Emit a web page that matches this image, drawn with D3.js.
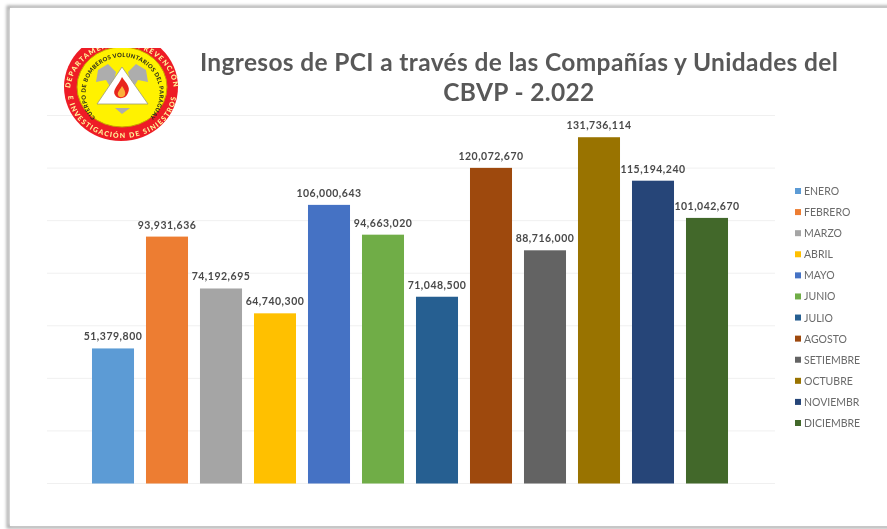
<!DOCTYPE html>
<html>
<head>
<meta charset="utf-8">
<script src="https://cdn.jsdelivr.net/npm/d3@7"></script>
<style>
  html, body { margin: 0; padding: 0; background: #fff; }
  svg { display: block; }
</style>
</head>
<body>
<script>
const months = ['ENERO', 'FEBRERO', 'MARZO', 'ABRIL', 'MAYO', 'JUNIO', 'JULIO', 'AGOSTO', 'SETIEMBRE', 'OCTUBRE', 'NOVIEMBR', 'DICIEMBRE'];
const ingresos = [51379800, 93931636, 74192695, 64740300, 106000643, 94663020, 71048500, 120072670, 88716000, 131736114, 115194240, 101042670];
const colores = ['#5B9BD5', '#ED7D31', '#A5A5A5', '#FFC000', '#4472C4', '#70AD47', '#255E91', '#9E480E', '#636363', '#997300', '#264478', '#43682B'];
const gridTicks = [0, 20000000, 40000000, 60000000, 80000000, 100000000, 120000000, 140000000];
const titulo = ['Ingresos de PCI a través de las Compañías y Unidades del', 'CBVP - 2.022'];

const width = 887, height = 529;

const svg = d3.select('body').append('svg')
  .attr('width', width)
  .attr('height', height);

const defs = svg.append('defs');
defs.append('filter').attr('id', 'soft')
  .append('feGaussianBlur').attr('stdDeviation', 0.5);
defs.append('filter').attr('id', 'softer')
  .attr('x', '-5%').attr('y', '-5%').attr('width', '110%').attr('height', '110%')
  .append('feGaussianBlur').attr('stdDeviation', 1.4);
defs.append('clipPath').attr('id', 'logo-clip')
  .append('rect').attr('x', 50).attr('y', 48).attr('width', 140).attr('height', 100);

// Page frame with its shadow
svg.append('rect').attr('x', 8).attr('y', 7).attr('width', 900).attr('height', 520)
  .attr('fill', 'none').attr('stroke', '#a8a8a8').attr('stroke-width', 3)
  .attr('filter', 'url(#softer)');
svg.append('rect').attr('x', 10).attr('y', 8).attr('width', 900).attr('height', 518)
  .attr('fill', '#fff');

const x = d3.scaleBand()
  .domain(months)
  .range([86, 734])
  .paddingInner(0.222)
  .paddingOuter(0.111);

const y = d3.scaleLinear()
  .domain([0, 140000000])
  .range([483.5, 115.5]);

const fmt = d3.format(',');

// Gridlines
svg.append('g').selectAll('line')
  .data(gridTicks)
  .join('line')
  .attr('x1', 47)
  .attr('x2', 775)
  .attr('y1', d => y(d))
  .attr('y2', d => y(d))
  .attr('stroke', '#f0f0f0')
  .attr('stroke-width', 1);

// Bars
svg.append('g').attr('filter', 'url(#soft)').selectAll('rect')
  .data(months)
  .join('rect')
  .attr('x', d => x(d))
  .attr('y', (d, i) => y(ingresos[i]))
  .attr('width', x.bandwidth())
  .attr('height', (d, i) => y(0) - y(ingresos[i]))
  .attr('fill', (d, i) => colores[i]);

// Value labels
svg.append('g').attr('filter', 'url(#soft)').selectAll('text')
  .data(months)
  .join('text')
  .attr('x', d => x(d) + x.bandwidth() / 2)
  .attr('y', (d, i) => y(ingresos[i]) - 8)
  .attr('text-anchor', 'middle')
  .attr('font-family', 'Lato, sans-serif')
  .attr('font-weight', 700)
  .attr('font-size', 10.5)
  .attr('letter-spacing', 0.5)
  .attr('fill', '#4a4a4a')
  .text((d, i) => fmt(ingresos[i]));

// Title
svg.append('g').attr('filter', 'url(#soft)').selectAll('text')
  .data(titulo)
  .join('text')
  .attr('x', 519)
  .attr('y', (d, i) => 71 + i * 30)
  .attr('text-anchor', 'middle')
  .attr('font-family', 'Lato, sans-serif')
  .attr('font-weight', 700)
  .attr('font-size', 24.5)
  .attr('letter-spacing', 0.35)
  .attr('fill', '#595959')
  .text(d => d);

// Legend
const legendY = d3.scalePoint().domain(months).range([191, 423]);
const legend = svg.append('g').attr('filter', 'url(#soft)').selectAll('g')
  .data(months)
  .join('g')
  .attr('transform', d => `translate(795,${legendY(d)})`);
legend.append('rect')
  .attr('x', 0).attr('y', -3)
  .attr('width', 6).attr('height', 6)
  .attr('fill', (d, i) => colores[i]);
legend.append('text')
  .attr('x', 9)
  .attr('y', 4)
  .attr('font-family', 'Lato, sans-serif')
  .attr('font-size', 10.5)
  .attr('fill', '#6a6a6a')
  .text(d => d);

// Logo
const logo = svg.append('g').attr('clip-path', 'url(#logo-clip)').attr('filter', 'url(#soft)');
logo.append('ellipse').attr('cx', 121).attr('cy', 87).attr('rx', 57).attr('ry', 54).attr('fill', '#ee1c25');
logo.append('ellipse').attr('cx', 122).attr('cy', 87).attr('rx', 45).attr('ry', 40).attr('fill', '#fff200').attr('stroke', '#c8a000').attr('stroke-width', 1);
logo.append('path').attr('d', 'M98 70 L108 64 L116 72 L112 90 L106 80 L96 82 Z M146 70 L136 64 L128 72 L132 90 L138 80 L148 82 Z').attr('fill', '#adadad');
logo.append('path').attr('d', 'M122 67 L148 104 L97 104 Z').attr('fill', '#fff').attr('stroke', '#9a9a7a').attr('stroke-width', 0.8);
logo.append('path').attr('d', 'M115 108 H130 L122 114 Z').attr('fill', '#adadad');
logo.append('path').attr('d', 'M122 77 C126 83 131 87 128 93 C126 99 118 100 115 95 C112 90 118 86 122 77 Z').attr('fill', '#e8261c');
logo.append('path').attr('d', 'M122 86 C124 89 126 92 125 95 C123 98 119 98 118 95 C117 92 120 90 122 86 Z').attr('fill', '#fbb03b');

const arcs = defs.append('g');
arcs.append('path').attr('id', 'arc-outer-top').attr('d', 'M70 92 A52 46 0 0 1 174 92');
arcs.append('path').attr('id', 'arc-outer-bottom').attr('d', 'M68 94 A54 44 0 0 0 176 94');
arcs.append('path').attr('id', 'arc-inner').attr('d', 'M98 120 A37 36 0 1 1 147 120');

function arcText(id, txt, size, fill, spacing) {
  logo.append('text')
    .attr('font-family', 'Lato, sans-serif')
    .attr('font-weight', 900)
    .attr('font-size', size)
    .attr('letter-spacing', spacing)
    .attr('fill', fill)
    .append('textPath')
    .attr('href', '#' + id)
    .attr('startOffset', '50%')
    .attr('text-anchor', 'middle')
    .text(txt);
}
arcText('arc-outer-top', 'DEPARTAMENTO DE PREVENCIÓN', 7, '#fff59a', 1.2);
arcText('arc-outer-bottom', 'E INVESTIGACIÓN DE SINIESTROS', 7, '#fff59a', 1.3);
arcText('arc-inner', 'CUERPO DE BOMBEROS VOLUNTARIOS DEL PARAGUAY', 5.8, '#2b2b1a', 0.35);
</script>
</body>
</html>
